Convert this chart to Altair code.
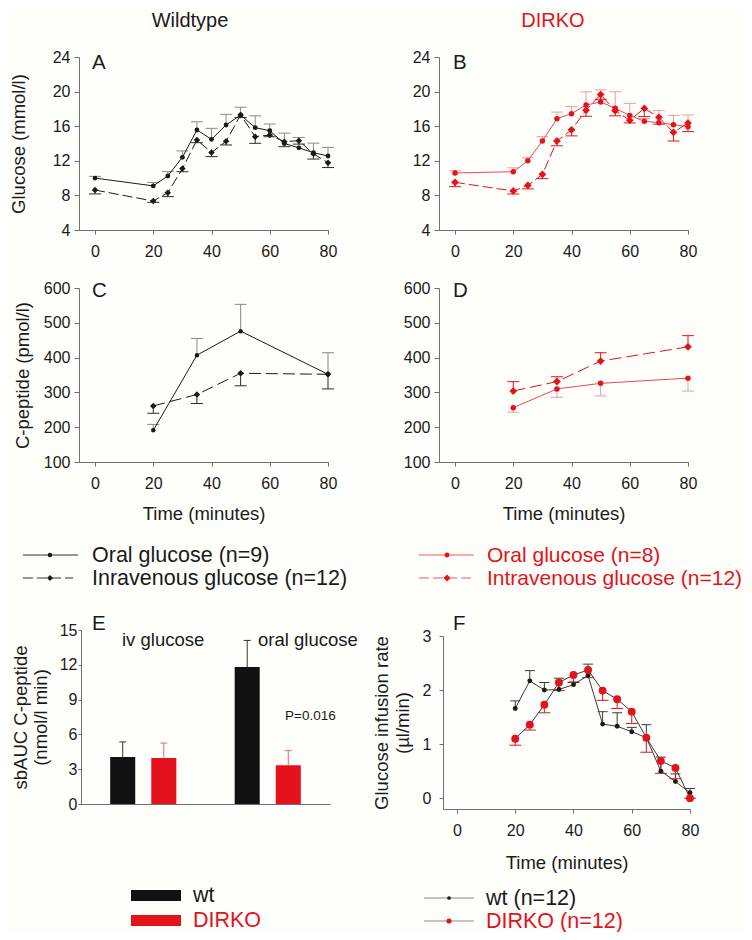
import altair as alt
import pandas as pd

# ---------------- data ----------------
t_glucose = [0, 20, 25, 30, 35, 40, 45, 50, 55, 60, 65, 70, 75, 80]
wt_oral_glucose = [10.0, 9.1, 10.25, 12.4, 15.56, 14.48, 16.14, 17.29, 15.83, 15.48, 14.0, 13.5, 12.94, 12.55]
wt_oral_glucose_sem = [0.2, 0.4, 0.5, 0.75, 0.95, 1.27, 1.23, 0.9, 1.37, 0.77, 1.2, 1.2, 1.1, 1.0]
wt_iv_glucose = [8.62, 7.35, 8.31, 11.1, 14.4, 12.96, 14.25, 17.3, 14.79, 14.98, 14.21, 14.33, 12.8, 11.78]
wt_iv_glucose_sem = [0.45, 0.15, 0.45, 0.36, 0.3, 0.48, 0.42, 0.3, 0.77, 0.2, 0.58, 0.4, 0.6, 0.56]
ko_oral_glucose = [10.59, 10.74, 12.0, 14.29, 16.87, 17.45, 18.45, 18.8, 18.08, 17.24, 16.57, 16.41, 16.18, 15.95]
ko_oral_glucose_sem = [0.27, 0.45, 0.36, 0.5, 0.76, 0.83, 1.52, 1.4, 1.9, 1.4, 0.3, 1.4, 1.06, 1.35]
ko_iv_glucose = [9.51, 8.51, 9.15, 10.44, 14.29, 15.58, 17.85, 19.66, 17.8, 16.68, 18.06, 17.03, 15.29, 16.37]
ko_iv_glucose_sem = [0.5, 0.35, 0.4, 0.5, 0.55, 0.7, 0.7, 0.55, 0.6, 0.3, 0.95, 0.8, 1.0, 1.0]

t_cpep = [20, 35, 50, 80]
wt_oral_cpep = [191, 407, 476, 352]
wt_oral_cpep_sem = [17, 48, 77, 62]
wt_iv_cpep = [261, 294, 355, 352]
wt_iv_cpep_sem = [21, 26, 36, 42]
ko_oral_cpep = [256, 310, 326, 341]
ko_oral_cpep_sem = [13, 24, 36, 37]
ko_iv_cpep = [304, 331, 390, 431]
ko_iv_cpep_sem = [27, 14, 24, 32]

auc_groups = ["iv glucose", "oral glucose"]
genotypes = ["wt", "DIRKO"]
auc_wt = [4.05, 11.8]
auc_wt_sem = [1.3, 2.3]
auc_ko = [3.97, 3.35]
auc_ko_sem = [1.28, 1.25]

t_gir = [20, 25, 30, 35, 40, 45, 50, 55, 60, 65, 70, 75, 80]
wt_gir = [1.66, 2.17, 2.0, 2.01, 2.1, 2.27, 1.37, 1.33, 1.23, 1.12, 0.5, 0.31, 0.1]
wt_gir_sem = [0.14, 0.19, 0.14, 0.21, 0.05, 0.21, 0.23, 0.25, 0.08, 0.24, 0.26, 0.14, 0.08]
ko_gir = [1.1, 1.36, 1.73, 2.14, 2.28, 2.37, 1.99, 1.83, 1.6, 1.12, 0.69, 0.56, 0.0]
ko_gir_sem = [0.12, 0.1, 0.15, 0.15, 0.14, 0.14, 0.18, 0.17, 0.22, 0.27, 0.23, 0.2, 0.0]

# ---------------- text ----------------
col_titles = ["Wildtype", "DIRKO"]
panel_letters = ["A", "B", "C", "D", "E", "F"]
legend_wt = ["Oral glucose (n=9)", "Inravenous glucose (n=12)"]
legend_ko = ["Oral glucose (n=8)", "Intravenous glucose (n=12)"]
legend_bars = ["wt", "DIRKO"]
legend_gir = ["wt (n=12)", "DIRKO (n=12)"]
e_notes = ["iv glucose", "oral glucose", "P=0.016"]
x_ticks = [0, 20, 40, 60, 80]
glucose_ticks = [4, 8, 12, 16, 20, 24]
cpep_ticks = [100, 200, 300, 400, 500, 600]
auc_ticks = [0, 3, 6, 9, 12, 15]
gir_ticks = [0, 1, 2, 3]
time_title = "Time (minutes)"

# ---------------- layout / style ----------------
W, H, OFF = 736, 924, 8
FONT = "Liberation Sans"
INK = "#1a1a1a"
RED = "#e3121b"
AXIS = "#6f6f6f"
BG = "#fefefa"


def frame(x0, x1, ytop, ybot, xd, yd):
    return {"xr": [x0 - OFF, x1 - OFF], "yr": [ybot - OFF, ytop - OFF], "xd": xd, "yd": yd}


PA = frame(79, 328, 57, 230, [-5.5, 80], [4, 24])
PB = frame(439, 688, 57, 230, [-5.5, 80], [4, 24])
PC = frame(79, 328, 288, 462, [-5.5, 80], [100, 600])
PD = frame(439, 688, 288, 462, [-5.5, 80], [100, 600])
PE = frame(81, 330, 630, 804, None, [0, 15])
PF = frame(443, 690, 636, 809, [-4.8, 80], [-0.2, 3])


def axis_common():
    return dict(grid=False, labelFont=FONT, labelFontSize=16, labelColor=INK,
                domainColor=AXIS, tickColor=AXIS, domainWidth=1, tickWidth=1,
                labelFlush=False, titleFont=FONT, titleFontSize=18.5,
                titleFontWeight="normal", titleColor=INK)


def x_axis(p, title=None, **kw):
    a = axis_common()
    a.update(orient="bottom", offset=p["yr"][0] - H, values=x_ticks, tickSize=4,
             labelPadding=9, titlePadding=13)
    a.update(kw)
    return alt.Axis(title=title, **a)


def y_axis(p, values, title=None, **kw):
    a = axis_common()
    a.update(orient="left", offset=-p["xr"][0], values=values, tickSize=5,
             labelPadding=4, titlePadding=20)
    a.update(kw)
    return alt.Axis(title=title, **a)


WT_ORAL = dict(line=INK, err="#8a8a8a", shape="circle", size=24, mcolor=INK, cap=12)
WT_IV = dict(line=INK, err="#2b2b2b", shape="diamond", size=42, mcolor=INK, cap=12, dash=[10, 4])
KO_ORAL = dict(line="#e84a4f", err="#f29a9d", shape="circle", size=30, mcolor=RED, cap=12)
KO_IV = dict(line=RED, err=RED, shape="diamond", size=60, mcolor=RED, cap=12, dash=[10, 4])
WT_GIR = dict(line="#3a3a3a", err="#3a3a3a", shape="circle", size=24, mcolor=INK, cap=10)
KO_GIR = dict(line="#3a3a3a", err=RED, shape="circle", size=62, mcolor=RED, cap=12)

err_layers, line_layers, pt_layers, extra_layers = [], [], [], []


def series(p, t, mean, sem, sign, st, xaxis=None, yaxis=None):
    df = pd.DataFrame({"t": t, "v": mean,
                       "end": [m + sign * s for m, s in zip(mean, sem)]})
    xs = alt.Scale(domain=p["xd"], range=p["xr"], nice=False, zero=False)
    ys = alt.Scale(domain=p["yd"], range=p["yr"], nice=False, zero=False)
    X = alt.X("t:Q", scale=xs, axis=None)
    base = alt.Chart(df)
    err_layers.append(base.mark_rule(color=st["err"], strokeWidth=1).encode(
        x=X, y=alt.Y("v:Q", scale=ys, axis=None), y2="end:Q"))
    err_layers.append(base.mark_tick(orient="horizontal", size=st["cap"], thickness=1,
                                     color=st["err"], opacity=1).encode(
        x=X, y=alt.Y("end:Q", scale=ys, axis=None)))
    lkw = dict(color=st["line"], strokeWidth=1)
    if "dash" in st:
        lkw["strokeDash"] = st["dash"]
    line_layers.append(base.mark_line(**lkw).encode(
        x=alt.X("t:Q", scale=xs, axis=xaxis),
        y=alt.Y("v:Q", scale=ys, axis=yaxis)))
    pt_layers.append(base.mark_point(filled=True, shape=st["shape"], size=st["size"],
                                     color=st["mcolor"], opacity=1).encode(
        x=X, y=alt.Y("v:Q", scale=ys, axis=None)))


# Panel A
series(PA, t_glucose, wt_oral_glucose, wt_oral_glucose_sem, 1, WT_ORAL,
       xaxis=x_axis(PA), yaxis=y_axis(PA, glucose_ticks, "Glucose (mmol/l)", titlePadding=24))
series(PA, t_glucose, wt_iv_glucose, wt_iv_glucose_sem, -1, WT_IV)
# Panel B
series(PB, t_glucose, ko_oral_glucose, ko_oral_glucose_sem, 1, KO_ORAL,
       xaxis=x_axis(PB), yaxis=y_axis(PB, glucose_ticks))
series(PB, t_glucose, ko_iv_glucose, ko_iv_glucose_sem, -1, KO_IV)
# Panel C
series(PC, t_cpep, wt_oral_cpep, wt_oral_cpep_sem, 1, dict(WT_ORAL, size=20),
       xaxis=x_axis(PC, time_title), yaxis=y_axis(PC, cpep_ticks, "C-peptide (pmol/l)", titlePadding=11))
series(PC, t_cpep, wt_iv_cpep, wt_iv_cpep_sem, -1, dict(WT_IV, dash=[12, 5]))
# Panel D
series(PD, t_cpep, ko_oral_cpep, ko_oral_cpep_sem, -1, KO_ORAL,
       xaxis=x_axis(PD, time_title), yaxis=y_axis(PD, cpep_ticks))
series(PD, t_cpep, ko_iv_cpep, ko_iv_cpep_sem, 1, dict(KO_IV, dash=[12, 5]))
# Panel F
series(PF, t_gir, wt_gir, wt_gir_sem, 1, WT_GIR,
       xaxis=x_axis(PF, time_title, titlePadding=15),
       yaxis=y_axis(PF, gir_ticks, ["Glucose infusion rate", "(\u00b5l/min)"],
                    tickSize=4, labelPadding=8, titlePadding=10))
series(PF, t_gir, ko_gir, ko_gir_sem, -1, KO_GIR)

# Panel E (bars)
df_e = pd.DataFrame({
    "group": auc_groups + auc_groups,
    "geno": [genotypes[0]] * 2 + [genotypes[1]] * 2,
    "v": auc_wt + auc_ko,
    "end": [m + s for m, s in zip(auc_wt + auc_ko, auc_wt_sem + auc_ko_sem)],
})
xs_e = alt.Scale(domain=auc_groups, range=PE["xr"], paddingInner=0, paddingOuter=0)
xo_e = alt.Scale(domain=genotypes, paddingInner=0.39, paddingOuter=0.71)
ys_e = alt.Scale(domain=PE["yd"], range=PE["yr"], nice=False, zero=False)
xe_axis = alt.Axis(orient="bottom", offset=PE["yr"][0] - H, labels=False, ticks=False,
                   title=None, grid=False, domainColor=AXIS, domainWidth=1)
ye_axis = y_axis(PE, auc_ticks, ["sbAUC C-peptide", "(nmol/l min)"],
                 tickSize=3, labelPadding=1, titlePadding=9, titleLineHeight=20)
base_e = alt.Chart(df_e)
extra_layers.append(base_e.mark_bar(opacity=1).encode(
    x=alt.X("group:N", scale=xs_e, axis=xe_axis),
    xOffset=alt.XOffset("geno:N", scale=xo_e),
    y=alt.Y("v:Q", scale=ys_e, axis=ye_axis),
    color=alt.Color("geno:N", scale=alt.Scale(domain=genotypes, range=["#111111", RED]), legend=None)))
err_col = alt.Color("geno:N", scale=alt.Scale(domain=genotypes, range=["#333333", "#ee6a6e"]), legend=None)
extra_layers.append(base_e.mark_rule(strokeWidth=1).encode(
    x=alt.X("group:N", scale=xs_e, axis=None), xOffset=alt.XOffset("geno:N", scale=xo_e),
    y=alt.Y("v:Q", scale=ys_e, axis=None), y2="end:Q", color=err_col))
extra_layers.append(base_e.mark_tick(orient="horizontal", size=7, thickness=1, opacity=1).encode(
    x=alt.X("group:N", scale=xs_e, axis=None), xOffset=alt.XOffset("geno:N", scale=xo_e),
    y=alt.Y("end:Q", scale=ys_e, axis=None), color=err_col))


# ---------------- annotations & legends ----------------
def text(label, x, y, size, color=INK, align="left"):
    return alt.Chart(pd.DataFrame({"label": [label]})).mark_text(
        align=align, baseline="alphabetic", font=FONT, fontSize=size, color=color).encode(
        x=alt.value(x - OFF), y=alt.value(y - OFF), text="label:N")


def hline(label, x0, x1, y, color, dash=None):
    kw = dict(color=color, strokeWidth=1)
    if dash:
        kw["strokeDash"] = dash
    return alt.Chart(pd.DataFrame({"label": [label]})).mark_rule(**kw).encode(
        x=alt.value(x0 - OFF), x2=alt.value(x1 - OFF), y=alt.value(y - OFF))


def marker(label, x, y, shape, size, color):
    return alt.Chart(pd.DataFrame({"label": [label]})).mark_point(
        filled=True, shape=shape, size=size, color=color, opacity=1).encode(
        x=alt.value(x - OFF), y=alt.value(y - OFF))


def swatch(label, x0, x1, y0, y1, color):
    return alt.Chart(pd.DataFrame({"label": [label]})).mark_rect(color=color).encode(
        x=alt.value(x0 - OFF), x2=alt.value(x1 - OFF), y=alt.value(y0 - OFF), y2=alt.value(y1 - OFF))


ann = [
    text(col_titles[0], 190, 27, 20, INK, "center"),
    text(col_titles[1], 553, 27, 20, RED, "center"),
    text(panel_letters[0], 92, 69, 20.5),
    text(panel_letters[1], 453, 69, 20.5),
    text(panel_letters[2], 92, 297, 20.5),
    text(panel_letters[3], 453, 297, 20.5),
    text(panel_letters[4], 92, 630, 20.5),
    text(panel_letters[5], 453, 630, 20.5),
    text(e_notes[0], 122, 646, 18.5),
    text(e_notes[1], 258, 646, 18.5),
    text(e_notes[2], 285, 720, 13.5),
    # legend wildtype
    hline(legend_wt[0], 23, 78, 555, "#333333"),
    marker(legend_wt[0], 50, 555, "circle", 20, INK),
    text(legend_wt[0], 92, 562, 21.5),
    hline(legend_wt[1], 23, 73, 578, "#333333", [10, 4]),
    marker(legend_wt[1], 50, 578, "diamond", 36, INK),
    text(legend_wt[1], 92, 585, 21.5),
    # legend DIRKO
    hline(legend_ko[0], 419, 474, 555, "#ee5a5f"),
    marker(legend_ko[0], 447, 555, "circle", 24, RED),
    text(legend_ko[0], 487, 562, 21, RED),
    hline(legend_ko[1], 419, 474, 578, "#ee5a5f", [10, 4]),
    marker(legend_ko[1], 447, 578, "diamond", 48, RED),
    text(legend_ko[1], 487, 585, 21, RED),
    # legend bars
    swatch(legend_bars[0], 131, 181, 890, 901, "#111111"),
    text(legend_bars[0], 193, 902, 21.5),
    swatch(legend_bars[1], 131, 181, 915, 926, RED),
    text(legend_bars[1], 193, 927, 21.5, RED),
    # legend F
    hline(legend_gir[0], 424, 474, 898, "#8a8a8a"),
    marker(legend_gir[0], 449, 898, "circle", 14, INK),
    text(legend_gir[0], 486, 905, 21.5),
    hline(legend_gir[1], 424, 474, 921, "#8a8a8a"),
    marker(legend_gir[1], 449, 921, "circle", 26, RED),
    text(legend_gir[1], 486, 928, 21.5, RED),
]

layers = err_layers + line_layers + pt_layers + extra_layers + ann

chart = alt.layer(*layers).resolve_scale(
    x="independent", y="independent", color="independent", xOffset="independent"
).resolve_axis(x="independent", y="independent").properties(
    width=W, height=H, padding=0, background=BG,
    autosize=alt.AutoSizeParams(type="none"),
).configure_view(stroke=None)

chart.save("out.html", embed_options={"renderer": "svg", "actions": False})
